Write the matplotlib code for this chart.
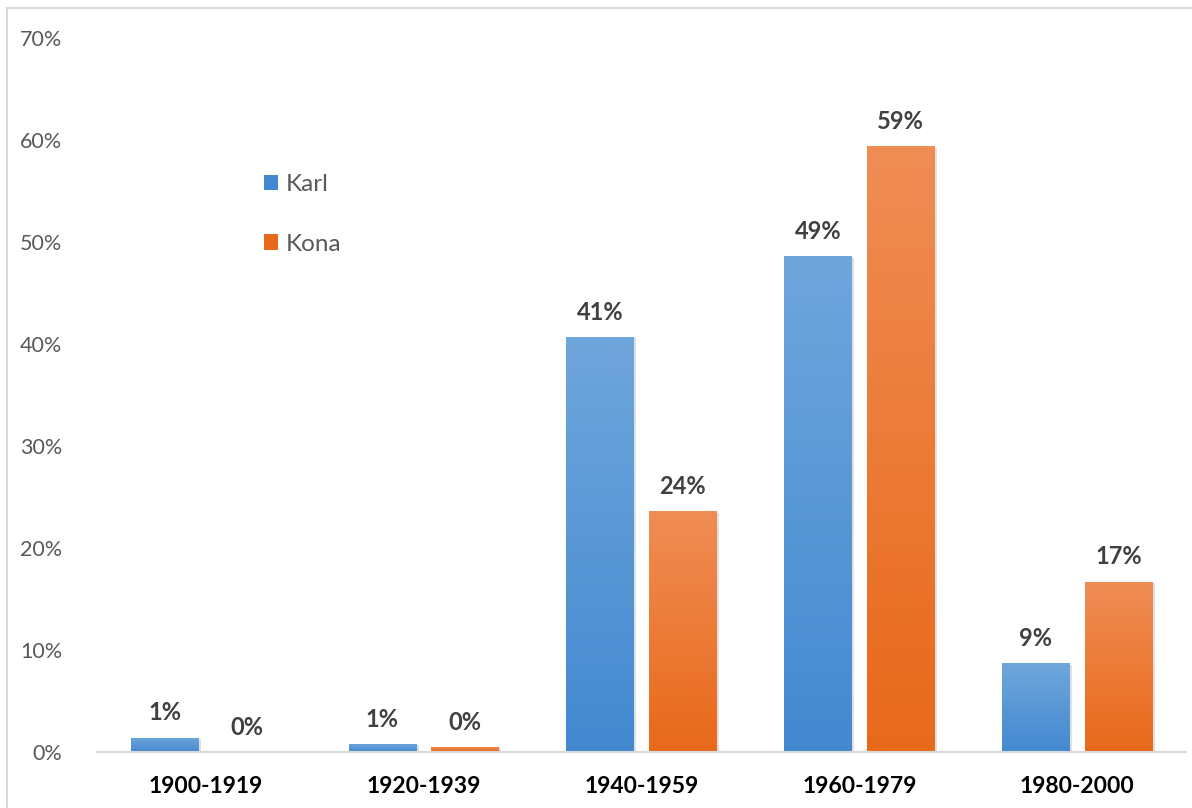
import numpy as np
from matplotlib import pyplot as plt
from matplotlib import colors
from matplotlib.patches import Rectangle
from matplotlib.ticker import PercentFormatter

periods = ['1900-1919', '1920-1939', '1940-1959', '1960-1979', '1980-2000']
karl = [0.014, 0.008, 0.407, 0.486, 0.087]
kona = [0.000, 0.005, 0.236, 0.594, 0.167]
karl_labels = ['1%', '1%', '41%', '49%', '9%']
kona_labels = ['0%', '0%', '24%', '59%', '17%']

blue_top, blue_bot = '#6fa6dc', '#4389d0'
orange_top, orange_bot = '#f08d55', '#e8691a'

plt.rcParams['font.family'] = ['Lato', 'DejaVu Sans']

fig = plt.figure(figsize=(11.92, 8.08), dpi=100)
ax = fig.add_axes([97/1192, 56/808, 1089/1192, 714/808])

# outer chart border (cut off at right/bottom like the reference)
fig.patches.append(Rectangle((6.5/1192, -0.05), 1.2, (800.5)/808 + 0.05,
                             transform=fig.transFigure, fill=False,
                             edgecolor='#d9d9d9', linewidth=1.5, zorder=0))


def gradient_bar(x, h, w, top, bot):
    if h <= 0:
        return
    # soft shadow
    ax.add_patch(Rectangle((x - w/2 + 0.012, 0), w, h - 0.0015, facecolor='#000000',
                           alpha=0.12, linewidth=0, zorder=1))
    rect = Rectangle((x - w/2, 0), w, h, facecolor='none', linewidth=0, zorder=2)
    ax.add_patch(rect)
    cmap = colors.LinearSegmentedColormap.from_list('g', [bot, top])
    grad = np.linspace(0, 1, 256).reshape(-1, 1)
    im = ax.imshow(grad, extent=(x - w/2, x + w/2, 0, h), origin='lower',
                   aspect='auto', cmap=cmap, zorder=2)
    im.set_clip_path(rect)


x = np.arange(len(periods))
w = 0.31
off = 0.19
for i in x:
    gradient_bar(i - off, karl[i], w, blue_top, blue_bot)
    gradient_bar(i + off, kona[i], w, orange_top, orange_bot)
    ax.text(i - off, karl[i] + 0.013, karl_labels[i], ha='center', va='bottom',
            fontsize=17, fontweight='bold', color='#404040')
    ax.text(i + off, kona[i] + 0.013, kona_labels[i], ha='center', va='bottom',
            fontsize=17, fontweight='bold', color='#404040')

ax.set_xlim(-0.5, len(periods) - 0.5)
ax.set_ylim(0, 0.70)
ax.set_yticks(np.arange(0, 0.71, 0.10))
ax.yaxis.set_major_formatter(PercentFormatter(1.0, decimals=0))
ax.set_xticks(x)
ax.set_xticklabels(periods, fontsize=16.5, fontweight='bold', color='black')
ax.tick_params(axis='y', labelsize=15.5, labelcolor='#595959', length=0, pad=25)
ax.tick_params(axis='x', length=0, pad=17)
for s in ['top', 'right', 'left']:
    ax.spines[s].set_visible(False)
ax.spines['bottom'].set_color('#d9d9d9')
ax.spines['bottom'].set_linewidth(1.5)
ax.spines['bottom'].set_zorder(3)

# legend
handles = [Rectangle((0, 0), 1, 1, facecolor=blue_bot),
           Rectangle((0, 0), 1, 1, facecolor=orange_bot)]
ax.legend(handles, ['Karl', 'Kona'], loc='upper left',
          bbox_to_anchor=(145/1089, (770 - 170)/714), frameon=False,
          fontsize=17.5, labelcolor='#595959', handlelength=0.6, handleheight=0.6,
          handletextpad=0.3, labelspacing=1.6)

fig.savefig('out.png', dpi=100)
